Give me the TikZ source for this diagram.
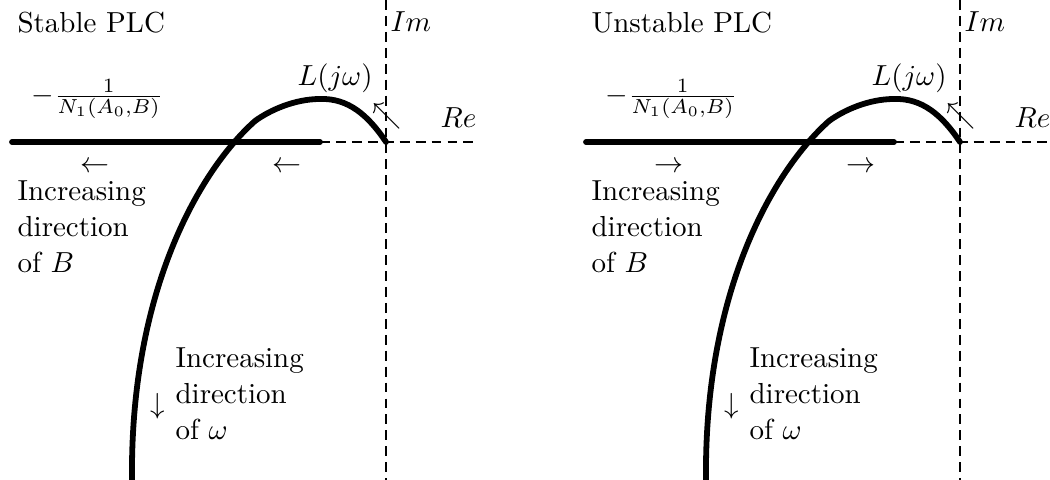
\documentclass[tikz,border=0pt]{standalone}
\begin{document}
\begin{tikzpicture}[x=0.345pt,y=-0.345pt,
  axis/.style={line width=0.85pt, dash pattern=on 3.4pt off 2.1pt},
  thickline/.style={line width=2pt, line cap=round, line join=round},
  lbl/.style={inner sep=0pt, anchor=base west},
  sym/.style={inner sep=0pt},
  multi/.style={inner sep=0pt, anchor=north west, align=left, font=\fontsize{10}{12.5}\selectfont}]
\useasboundingbox (0,0) rectangle (1050,480);
% ---------- left panel: stable ----------
\begin{scope}
  \coordinate (sO) at (386,142);
  \coordinate (sImTop) at (386,0);
  \coordinate (sImBot) at (386,480);
  \coordinate (sReL) at (320,142);
  \coordinate (sReR) at (476,142);
  \coordinate (sBL) at (12,142);
  \coordinate (sPeak) at (320,99);
  \coordinate (sKnee) at (255,121);
  \coordinate (sEnd) at (132,480);
  \draw[axis] (sImTop) -- (sImBot);
  \draw[axis] (sReL) -- (sReR);
  \draw[thickline] (sBL) -- (sReL);
  \draw[thickline] (sO) .. controls (368,115) and (348,98) .. (sPeak)
     .. controls (295,99) and (270,110) .. (sKnee)
     .. controls (200,170) and (130,290) .. (sEnd);
  \node[lbl] (sTitle) at (17,33) {Stable PLC};
  \node[lbl] (sIm) at (390,32) {$Im$};
  \node[lbl] (sRe) at (440,128) {$Re$};
  \node[lbl] (sL) at (297,86) {$L(j\omega)$};
  \node[lbl] (sN) at (31,104) {$-\frac{1}{N_1(A_0,B)}$};
  \node[sym] (sNw) at (387,116) {$\nwarrow$};
  \node[sym] (sA1) at (95,167) {$\leftarrow$};
  \node[sym] (sA2) at (287,167) {$\leftarrow$};
  \node[multi] (sBtxt) at (17,180) {Increasing\\direction\\of $B$};
  \node[sym] (sDn) at (158,406) {$\downarrow$};
  \node[multi] (sWtxt) at (175,347) {Increasing\\direction\\of $\omega$};
\end{scope}
% ---------- right panel: unstable ----------
\begin{scope}[shift={(574,0)}]
  \coordinate (uO) at (386,142);
  \coordinate (uImTop) at (386,0);
  \coordinate (uImBot) at (386,480);
  \coordinate (uReL) at (320,142);
  \coordinate (uReR) at (476,142);
  \coordinate (uBL) at (12,142);
  \coordinate (uPeak) at (320,99);
  \coordinate (uKnee) at (255,121);
  \coordinate (uEnd) at (132,480);
  \draw[axis] (uImTop) -- (uImBot);
  \draw[axis] (uReL) -- (uReR);
  \draw[thickline] (uBL) -- (uReL);
  \draw[thickline] (uO) .. controls (368,115) and (348,98) .. (uPeak)
     .. controls (295,99) and (270,110) .. (uKnee)
     .. controls (200,170) and (130,290) .. (uEnd);
  \node[lbl] (uTitle) at (17,33) {Unstable PLC};
  \node[lbl] (uIm) at (390,32) {$Im$};
  \node[lbl] (uRe) at (440,128) {$Re$};
  \node[lbl] (uL) at (297,86) {$L(j\omega)$};
  \node[lbl] (uN) at (31,104) {$-\frac{1}{N_1(A_0,B)}$};
  \node[sym] (uNw) at (387,116) {$\nwarrow$};
  \node[sym] (uA1) at (95,167) {$\rightarrow$};
  \node[sym] (uA2) at (287,167) {$\rightarrow$};
  \node[multi] (uBtxt) at (17,180) {Increasing\\direction\\of $B$};
  \node[sym] (uDn) at (158,406) {$\downarrow$};
  \node[multi] (uWtxt) at (175,347) {Increasing\\direction\\of $\omega$};
\end{scope}
\end{tikzpicture}
\end{document}
